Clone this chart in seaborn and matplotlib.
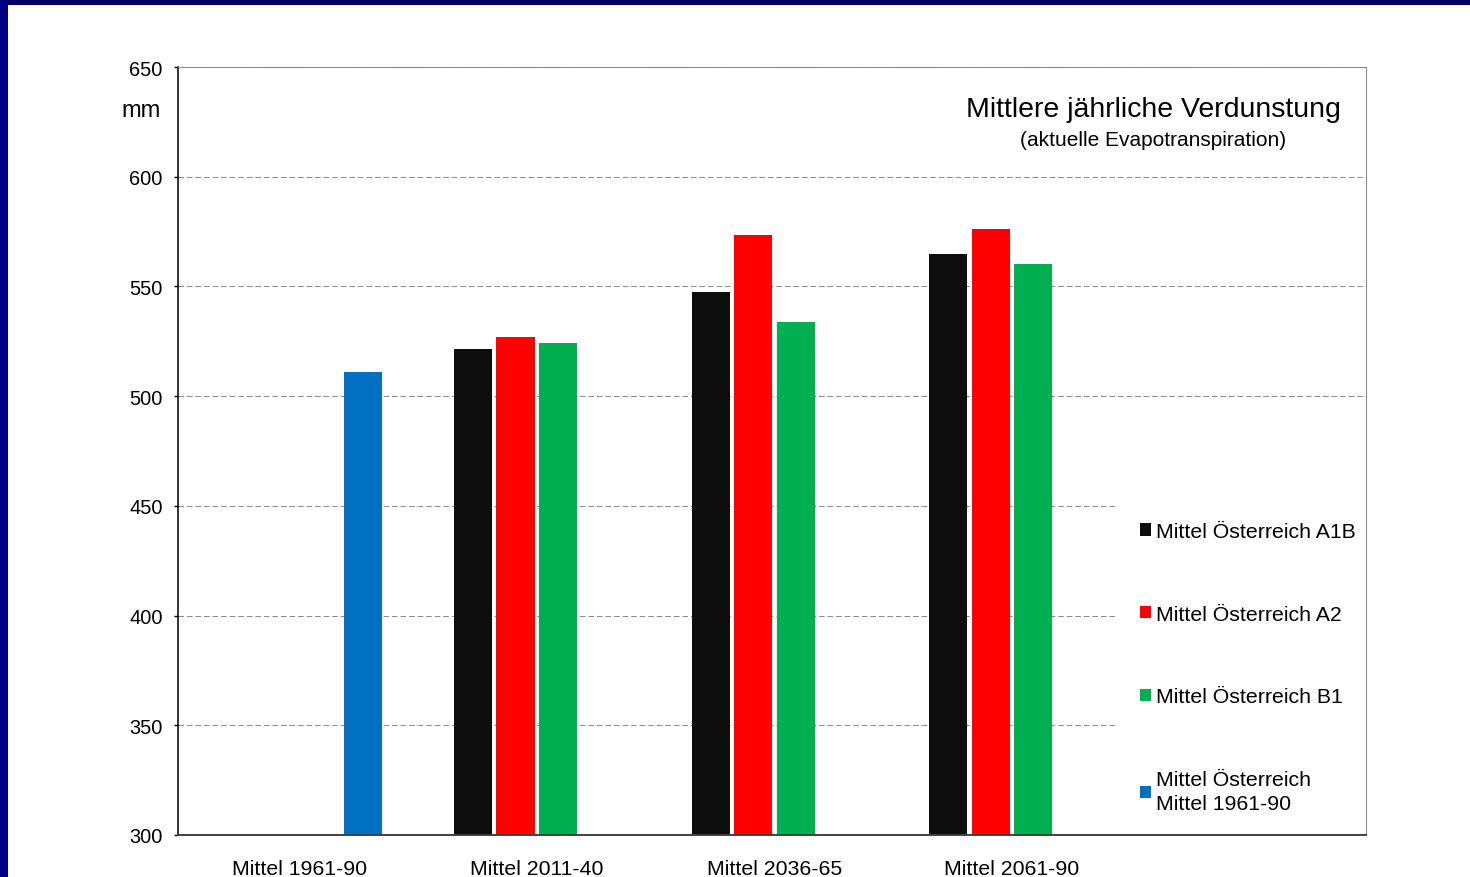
import numpy as np
import pandas as pd
import matplotlib
matplotlib.use("Agg")
import matplotlib.pyplot as plt
from matplotlib.patches import Rectangle
import seaborn as sns

# ---- data ----
categories = ["Mittel 1961-90", "Mittel 2011-40", "Mittel 2036-65", "Mittel 2061-90"]
series = ["Mittel Österreich A1B", "Mittel Österreich A2", "Mittel Österreich B1",
          "Mittel Österreich\nMittel 1961-90"]
a1b = [np.nan, 521.5, 547.5, 565.0]
a2 = [np.nan, 527.0, 573.5, 576.0]
b1 = [np.nan, 524.0, 534.0, 560.0]
ref = [511.0, np.nan, np.nan, np.nan]
colors = ["#0d0d0d", "#ff0000", "#00b050", "#0070c0"]
yticks = [300, 350, 400, 450, 500, 550, 600, 650]

rows = []
for s, vals in zip(series, [a1b, a2, b1, ref]):
    for c, v in zip(categories, vals):
        if not np.isnan(v):
            rows.append({"Periode": c, "Serie": s, "Wert": v})
df = pd.DataFrame(rows)

sns.set_style("white")
plt.rcParams["font.family"] = ["Liberation Sans", "DejaVu Sans"]
plt.rcParams["text.color"] = "black"

W, H = 1470, 878
fig = plt.figure(figsize=(W / 100, H / 100), dpi=100)
fig.patch.set_facecolor("white")

ax = fig.add_axes([178 / W, 1 - 836 / H, (1366 - 178) / W, (836 - 68) / H])

sns.barplot(data=df, x="Periode", y="Wert", hue="Serie", order=categories,
            hue_order=series, palette=colors, saturation=1, errorbar=None,
            width=0.716, gap=0.106, dodge=True, linewidth=0, ax=ax)

ax.set_xlim(-0.51, 4.49)
ax.set_ylim(300, 650)
ax.set_yticks(yticks)
ax.set_xlabel("")
ax.set_ylabel("")

ax.yaxis.grid(True, linestyle=(0, (5.3, 2.9)), color="#8c8c8c", linewidth=0.75)
ax.xaxis.grid(False)
ax.set_axisbelow(True)

for side in ["top", "right"]:
    ax.spines[side].set_visible(True)
    ax.spines[side].set_color("#8c8c8c")
    ax.spines[side].set_linewidth(0.8)
    ax.spines[side].set_zorder(6)
ax.spines["left"].set_color("black")
ax.spines["left"].set_linewidth(1.1)
ax.spines["bottom"].set_color("#404040")
ax.spines["bottom"].set_linewidth(1.4)
ax.spines["bottom"].set_zorder(6)

ax.tick_params(axis="y", which="major", left=True, length=3, width=1.0,
               color="black", pad=8, labelsize=14.4, labelcolor="black",
               direction="out")
ax.tick_params(axis="x", length=0, pad=17.5, labelsize=15.3, labelcolor="black")

# unit label
fig.text(161 / W, 1 - 111 / H, "mm", ha="right", va="center", fontsize=17,
         color="black")

# title
fig.text(1153 / W, 1 - 110 / H, "Mittlere jährliche Verdunstung", ha="center",
         va="center", fontsize=20.5, color="black")
fig.text(1153 / W, 1 - 140 / H, "(aktuelle Evapotranspiration)", ha="center",
         va="center", fontsize=15, color="black")

# legend
sns.move_legend(ax, "upper left", bbox_to_anchor=(1117 / W, 1 - 500 / H),
                bbox_transform=fig.transFigure, title=None, frameon=True,
                facecolor="white", edgecolor="none", framealpha=1.0,
                fontsize=15.3, handlelength=0.52, handleheight=0.52,
                handletextpad=0.25, labelspacing=3.0, borderpad=1.077,
                borderaxespad=0, fancybox=False, labelcolor="black")
leg = ax.get_legend()
leg.get_frame().set_linewidth(0)
for t in leg.get_texts():
    t.set_linespacing(1.35)

# slide border bands
fig.patches.append(Rectangle((0, 1 - 6 / H), 1, 6 / H, transform=fig.transFigure,
                             facecolor="#000060", edgecolor="none", zorder=10))
fig.patches.append(Rectangle((0, 0), 8 / W, 1, transform=fig.transFigure,
                             facecolor="#000080", edgecolor="none", zorder=10))

fig.savefig("out.png", dpi=100, facecolor="white")
